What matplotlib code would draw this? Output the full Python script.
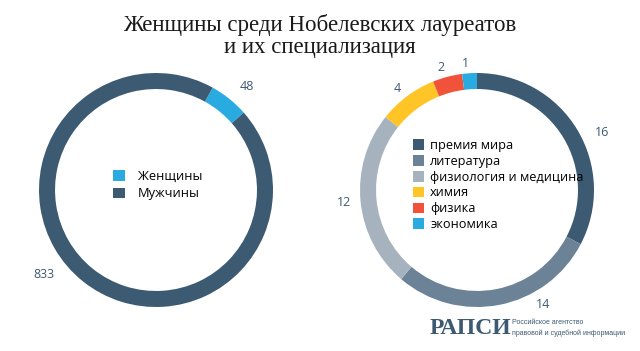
import numpy as np
import matplotlib.pyplot as plt

# данные
total_labels = ['Женщины', 'Мужчины']
total_values = [48, 833]
total_colors = ['#29abe2', '#3d5a73']

spec_labels = ['премия мира', 'литература', 'физиология и медицина', 'химия', 'физика', 'экономика']
spec_values = [16, 14, 12, 4, 2, 1]
spec_colors = ['#3d5a73', '#6b8297', '#a6b3bf', '#ffc425', '#f0533a', '#29abe2']

W, H = 640, 351
R = 117          # радиус кольца в пикселях
K = 1.4          # запас осей
txt_color = '#3d5a73'

fig = plt.figure(figsize=(W / 100, H / 100), dpi=100)
fig.patch.set_facecolor('white')


def donut_ax(cx, cy):
    s = 2 * R * K
    ax = fig.add_axes([(cx - s / 2) / W, (H - cy - s / 2) / H, s / W, s / H])
    return ax


def fix_limits(ax):
    ax.set_xlim(-K, K)
    ax.set_ylim(-K, K)
    ax.set_aspect('equal')
    ax.axis('off')


# левое кольцо
ax1 = donut_ax(156, 190)
w1, t1 = ax1.pie(total_values, colors=total_colors, startangle=61, counterclock=False,
                 labels=[str(v) for v in total_values], labeldistance=1.14,
                 wedgeprops=dict(width=0.137, linewidth=0),
                 textprops=dict(color=txt_color, fontsize=9, family='Open Sans'))
fix_limits(ax1)
# подпись 833 сдвинута как на оригинале
a = np.deg2rad(90 - 233)
t1[1].set_position((1.2 * np.cos(a), 1.2 * np.sin(a)))
t1[1].set_ha('center')
ax1.legend(w1, total_labels, loc='center', bbox_to_anchor=(0.505, 0.515), frameon=False,
           handlelength=0.9, handleheight=0.9, handletextpad=1.0, labelspacing=0.35,
           prop=dict(family='Open Sans', size=9.3))

# правое кольцо
ax2 = donut_ax(477, 190)
w2, t2 = ax2.pie(spec_values, colors=spec_colors, startangle=90, counterclock=False,
                 labels=[str(v) for v in spec_values], labeldistance=1.08,
                 wedgeprops=dict(width=0.137, linewidth=0),
                 textprops=dict(color=txt_color, fontsize=9, family='Open Sans'))
fix_limits(ax2)
a = np.deg2rad(90 - 150)
t2[1].set_position((1.13 * np.cos(a), 1.13 * np.sin(a)))
t2[1].set_ha('center')
a = np.deg2rad(90 - 64)
t2[0].set_position((1.12 * np.cos(a), 1.12 * np.sin(a)))
ax2.legend(w2, spec_labels, loc='center', bbox_to_anchor=(0.565, 0.515), frameon=False,
           handlelength=0.9, handleheight=0.9, handletextpad=0.45, labelspacing=0.22,
           prop=dict(family='Open Sans', size=9.2))

# заголовок
fig.text(0.5, 1 - 36 / H, 'Женщины среди Нобелевских лауреатов\nи их специализация',
         ha='center', va='center', fontsize=16.5, family='Liberation Serif',
         color='#1a1a1a', linespacing=1.1)

# логотип
fig.text(430 / W, 1 - 329 / H, 'РАПСИ', ha='left', va='center', fontsize=17,
         family='Liberation Serif', weight='bold', color='#3d5a73')
fig.text(512 / W, 1 - 322 / H, 'Российское агентство', ha='left', va='center',
         fontsize=5, family='Liberation Sans', color='#3d5a73')
fig.text(512 / W, 1 - 333 / H, 'правовой и судебной информации', ha='left', va='center',
         fontsize=5, family='Liberation Sans', color='#3d5a73')

plt.savefig('out.png', dpi=100)
